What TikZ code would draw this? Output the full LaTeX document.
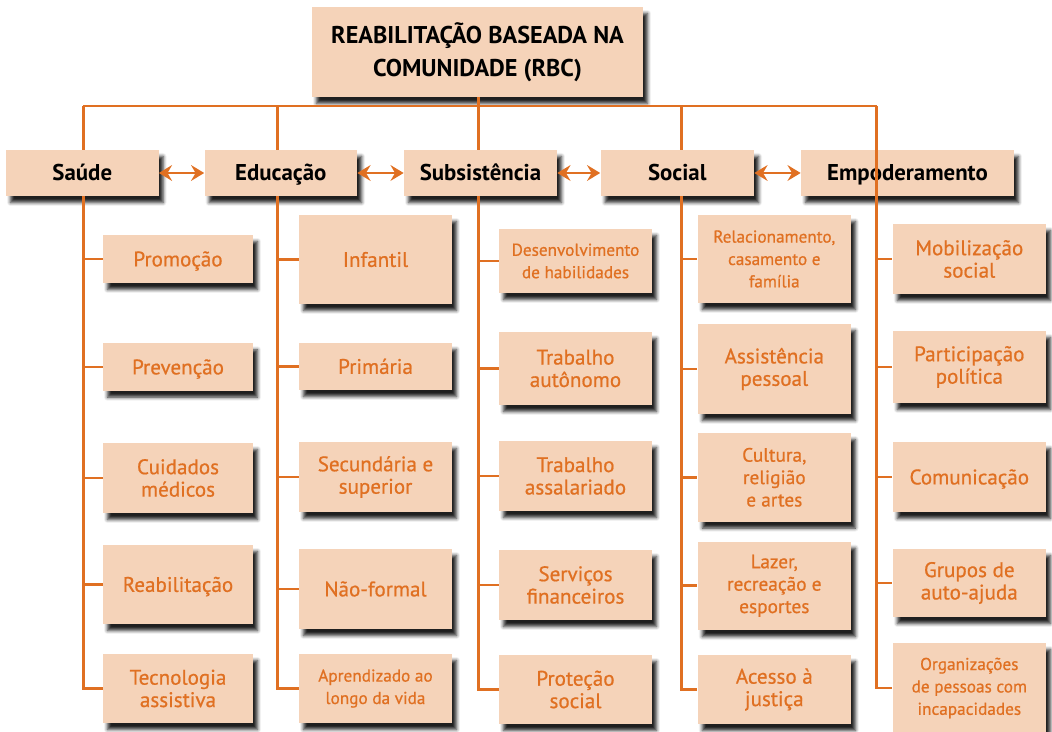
\documentclass[tikz,border=0pt]{standalone}
\usepackage{fontspec}
\setmainfont{PT Sans}
\newfontfamily\orangefont[FakeBold=0.7]{PT Sans}
\usetikzlibrary{arrows.meta,shadows.blur}
\definecolor{peach}{HTML}{F5D3B9}
\definecolor{rbcorange}{HTML}{E07022}
\tikzset{
  x=0.02cm, y=-0.02cm,
  boxbase/.style={fill=peach, inner sep=0pt, align=center,
    blur shadow={shadow xshift=0.09cm, shadow yshift=-0.13cm, shadow blur radius=0.07cm, shadow opacity=88}},
  titlebox/.style={boxbase, minimum width=6.62cm, minimum height=1.8cm,
    font=\fontsize{13.8}{18.5}\selectfont\bfseries, text=black},
  headbox/.style={boxbase, minimum height=0.92cm, text height=9.1pt, text depth=0pt,
    font=\fontsize{13}{15}\selectfont\bfseries, text=black},
  childbox/.style={boxbase, text=rbcorange, minimum width=3.06cm,
    font=\orangefont\fontsize{12}{12.75}\selectfont},
  oneline/.style={text height=8.4pt, text depth=0pt},
  midtext/.style={font=\orangefont\fontsize{11}{12.75}\selectfont},
  smalltext/.style={font=\orangefont\fontsize{9.8}{12.75}\selectfont},
  link/.style={draw=rbcorange, line width=1.6pt},
  dbl/.style={draw=rbcorange, line width=1.6pt,
    {Stealth[length=7.5pt,width=9pt,inset=2.6pt]}-{Stealth[length=7.5pt,width=9pt,inset=2.6pt]}}
}
\begin{document}
\begin{tikzpicture}
\useasboundingbox (0,0) rectangle (1052,732);

% title
\node[titlebox] (title) at (477.5,52) {REABILITAÇÃO BASEADA NA\\COMUNIDADE (RBC)};

% headers
\node[headbox, minimum width=3.05cm] (saude) at (82.3,173) {Saúde};
\node[headbox, minimum width=3.05cm] (educ) at (280.8,173) {Educação};
\node[headbox, minimum width=3.06cm] (subs) at (480.5,173) {Subsistência};
\node[headbox, minimum width=3.07cm] (social) at (677.3,173) {Social};
\node[headbox, minimum width=4.26cm] (empod) at (907.5,173) {Empoderamento};

% column 1
\node[childbox, oneline, minimum width=3.0cm, minimum height=0.96cm] (promo) at (178,259) {Promoção};
\node[childbox, oneline, minimum width=3.0cm, minimum height=0.95cm] (prev) at (178,367) {Prevenção};
\node[childbox, minimum width=3.0cm, minimum height=1.4cm] (cuid) at (178,478) {Cuidados\\médicos};
\node[childbox, oneline, minimum width=3.0cm, minimum height=1.58cm] (reab) at (178,584.5) {Reabilitação};
\node[childbox, minimum width=3.0cm, minimum height=1.38cm] (tec) at (178,688.5) {Tecnologia\\assistiva};

% column 2
\node[childbox, oneline, minimum height=1.78cm] (infantil) at (375.5,259.5) {Infantil};
\node[childbox, oneline, minimum height=0.94cm] (primaria) at (375.5,366.5) {Primária};
\node[childbox, minimum height=1.4cm] (secund) at (375.5,477) {Secundária e\\superior};
\node[childbox, oneline, minimum height=1.6cm] (naoformal) at (375.5,589) {Não-formal};
\node[childbox, smalltext, minimum height=1.38cm] (aprend) at (375.5,688.5) {Aprendizado ao\\longo da vida};

% column 3
\node[childbox, smalltext, minimum height=1.28cm] (desenv) at (575.5,261) {Desenvolvimento\\de habilidades};
\node[childbox, minimum height=1.46cm] (trabaut) at (575.5,368.5) {Trabalho\\autônomo};
\node[childbox, minimum height=1.4cm] (trabass) at (575.5,476) {Trabalho\\assalariado};
\node[childbox, minimum height=1.4cm] (serv) at (575.5,585) {Serviços\\financeiros};
\node[childbox, minimum height=1.38cm] (prot) at (575.5,689.5) {Proteção\\social};

% column 4
\node[childbox, smalltext, minimum height=1.76cm] (relac) at (774.3,259) {Relacionamento,\\casamento e\\família};
\node[childbox, minimum height=1.8cm] (assist) at (774.3,369) {Assistência\\pessoal};
\node[childbox, midtext, minimum height=1.77cm] (cultura) at (774.3,477.3) {Cultura,\\religião\\e artes};
\node[childbox, midtext, minimum height=1.77cm] (lazer) at (774.3,585.8) {Lazer,\\recreação e\\esportes};
\node[childbox, minimum height=1.38cm] (acesso) at (774.3,689.5) {Acesso à\\justiça};

% column 5
\node[childbox, minimum height=1.4cm] (mobil) at (969.3,259) {Mobilização\\social};
\node[childbox, minimum height=1.44cm] (partic) at (969.3,367) {Participação\\política};
\node[childbox, oneline, minimum height=1.4cm] (comun) at (969.3,477) {Comunicação};
\node[childbox, minimum height=1.36cm] (grupos) at (969.3,583) {Grupos de\\auto-ajuda};
\node[childbox, smalltext, minimum height=1.8cm] (organiz) at (969.3,688) {Organizações\\de pessoas com\\incapacidades};

% line positions on the bar
\coordinate (xs) at (83.3,106);
\coordinate (xed) at (277.7,106);
\coordinate (xb) at (478.7,106);
\coordinate (xso) at (681.5,106);
\coordinate (xe) at (876.5,106);

% bar and title link
\draw[link] (xs) -- (xe);
\draw[link] (title.south -| xb) -- (xb);

% Saúde
\draw[link] (xs) -- (xs |- saude.north);
\draw[link] (saude.south -| xs) -- (xs |- tec.west) -- (tec.west);
\foreach \c in {promo,prev,cuid,reab} \draw[link] (xs |- \c.west) -- (\c.west);

% Educação
\draw[link] (xed) -- (xed |- educ.north);
\draw[link] (educ.south -| xed) -- (xed |- aprend.west) -- (aprend.west);
\foreach \c in {infantil,primaria,secund,naoformal} \draw[link] (xed |- \c.west) -- (\c.west);

% Subsistência
\draw[link] (xb) -- (xb |- subs.north);
\draw[link] (subs.south -| xb) -- (xb |- prot.west) -- (prot.west);
\foreach \c in {desenv,trabaut,trabass,serv} \draw[link] (xb |- \c.west) -- (\c.west);

% Social
\draw[link] (xso) -- (xso |- social.north);
\draw[link] (social.south -| xso) -- (xso |- acesso.west) -- (acesso.west);
\foreach \c in {relac,assist,cultura,lazer} \draw[link] (xso |- \c.west) -- (\c.west);

% Empoderamento (line runs over its box)
\draw[link] (xe) -- (xe |- organiz.west) -- (organiz.west);
\foreach \c in {mobil,partic,comun,grupos} \draw[link] (xe |- \c.west) -- (\c.west);

% double arrows between headers
\draw[dbl] (saude) -- (educ);
\draw[dbl] (educ) -- (subs);
\draw[dbl] (subs) -- (social);
\draw[dbl] (social) -- (empod);
\end{tikzpicture}
\end{document}
